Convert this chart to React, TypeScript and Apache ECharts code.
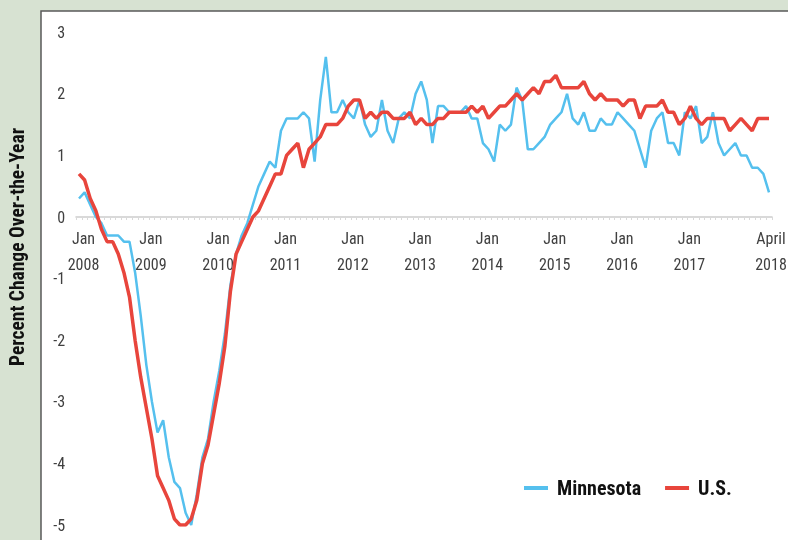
import React, { useEffect, useRef } from "react";
import * as echarts from "echarts";

// Months from Jan 2008 to Apr 2018
const startYear = 2008;
const monthCount = 124;
const categories: string[] = Array.from({ length: monthCount }, (_, i) =>
  `${startYear + Math.floor(i / 12)}-${String((i % 12) + 1).padStart(2, "0")}`
);

const xTickLabels: [string, string, string][] = [
  ["2008-01", "Jan", "2008"],
  ["2009-01", "Jan", "2009"],
  ["2010-01", "Jan", "2010"],
  ["2011-01", "Jan", "2011"],
  ["2012-01", "Jan", "2012"],
  ["2013-01", "Jan", "2013"],
  ["2014-01", "Jan", "2014"],
  ["2015-01", "Jan", "2015"],
  ["2016-01", "Jan", "2016"],
  ["2017-01", "Jan", "2017"],
  ["2018-04", "April", "2018"],
];

const yMin = -5;
const yMax = 3;
const yStep = 1;

const minnesota: number[] = [
  0.3, 0.4, 0.2, 0.0, -0.1, -0.3, -0.3, -0.3, -0.4, -0.4, -0.9, -1.6,
  -2.4, -3.0, -3.5, -3.3, -3.9, -4.3, -4.4, -4.8, -5.0, -4.5, -3.9, -3.6,
  -3.0, -2.5, -1.9, -1.1, -0.6, -0.3, -0.1, 0.2, 0.5, 0.7, 0.9, 0.8,
  1.4, 1.6, 1.6, 1.6, 1.7, 1.6, 0.9, 1.9, 2.6, 1.7, 1.7, 1.9,
  1.7, 1.6, 1.9, 1.5, 1.3, 1.4, 1.9, 1.4, 1.2, 1.6, 1.7, 1.6,
  2.0, 2.2, 1.9, 1.2, 1.8, 1.8, 1.7, 1.7, 1.7, 1.8, 1.6, 1.6,
  1.2, 1.1, 0.9, 1.5, 1.4, 1.5, 2.1, 1.9, 1.1, 1.1, 1.2, 1.3,
  1.5, 1.6, 1.7, 2.0, 1.6, 1.5, 1.7, 1.4, 1.4, 1.6, 1.5, 1.5,
  1.7, 1.6, 1.5, 1.4, 1.1, 0.8, 1.4, 1.6, 1.7, 1.2, 1.2, 1.0,
  1.7, 1.6, 1.8, 1.2, 1.3, 1.7, 1.2, 1.0, 1.1, 1.2, 1.0, 1.0,
  0.8, 0.8, 0.7, 0.4,
];

const us: number[] = [
  0.7, 0.6, 0.3, 0.1, -0.2, -0.4, -0.4, -0.6, -0.9, -1.3, -2.0, -2.6,
  -3.1, -3.6, -4.2, -4.4, -4.6, -4.9, -5.0, -5.0, -4.9, -4.6, -4.0, -3.7,
  -3.2, -2.7, -2.1, -1.2, -0.6, -0.4, -0.2, 0.0, 0.1, 0.3, 0.5, 0.7,
  0.7, 1.0, 1.1, 1.2, 0.8, 1.1, 1.2, 1.3, 1.5, 1.5, 1.5, 1.6,
  1.8, 1.9, 1.9, 1.6, 1.7, 1.6, 1.7, 1.7, 1.6, 1.6, 1.6, 1.7,
  1.5, 1.6, 1.5, 1.5, 1.6, 1.6, 1.7, 1.7, 1.7, 1.7, 1.8, 1.7,
  1.8, 1.6, 1.7, 1.8, 1.8, 1.9, 2.0, 1.9, 2.0, 2.1, 2.0, 2.2,
  2.2, 2.3, 2.1, 2.1, 2.1, 2.1, 2.2, 2.0, 1.9, 2.0, 1.9, 1.9,
  1.9, 1.8, 1.9, 1.9, 1.6, 1.8, 1.8, 1.8, 1.9, 1.7, 1.7, 1.5,
  1.6, 1.8, 1.6, 1.5, 1.6, 1.6, 1.6, 1.6, 1.4, 1.5, 1.6, 1.5,
  1.4, 1.6, 1.6, 1.6,
];

const seriesNames = ["Minnesota", "U.S."];
const yAxisTitle = "Percent Change Over-the-Year";

const FONT = '"Liberation Sans Narrow", "Arial Narrow", "Roboto Condensed", "DejaVu Sans Condensed", Roboto, sans-serif';

const GRID = { left: 76.2, right: 16.2, top: 32.2, bottom: 15 };
const CHART_H = 540;

export default function App() {
  const ref = useRef<HTMLDivElement>(null);

  useEffect(() => {
    if (!ref.current) return;
    const chart = echarts.init(ref.current, undefined, { renderer: "svg" });
    const labelMap = new Map(xTickLabels.map(([k, a, b]) => [k, [a, b]]));
    const lastKey = categories[categories.length - 1];
    const gridH = CHART_H - GRID.top - GRID.bottom;
    // move the category axis (line, ticks, labels) up to the zero line
    const zeroOffset = -((0 - yMin) / (yMax - yMin)) * gridH;
    const labelBase = {
      fontFamily: FONT,
      fontSize: 16,
      lineHeight: 26,
      color: "#404040",
    };
    chart.setOption({
      animation: false,
      backgroundColor: "transparent",
      graphic: [
        {
          type: "rect",
          z: -20,
          silent: true,
          shape: { x: 0, y: 0, width: 788, height: 540 },
          style: { fill: "#d7e2d2" },
        },
        {
          type: "rect",
          z: -19,
          silent: true,
          shape: { x: 41, y: 11, width: 800, height: 600 },
          style: { fill: "#ffffff", stroke: "#5a5a5a", lineWidth: 1.5 },
        },
        {
          type: "text",
          x: 17.5,
          y: 247,
          rotation: Math.PI / 2,
          style: {
            text: yAxisTitle,
            fill: "#111111",
            font: `bold 19.5px ${FONT}`,
            textAlign: "center",
            textVerticalAlign: "middle",
          },
        },
      ],
      grid: {
        ...GRID,
        containLabel: false,
        outerBoundsMode: "none",
      },
      legend: {
        data: seriesNames,
        left: 519,
        top: 472,
        icon: "rect",
        itemWidth: 24,
        itemHeight: 4,
        itemGap: 24,
        textStyle: {
          fontFamily: FONT,
          fontWeight: "bold",
          fontSize: 20,
          color: "#111111",
          lineHeight: 22,
          padding: [0, 0, 0, 4],
        },
      },
      xAxis: {
        type: "category",
        data: categories,
        boundaryGap: true,
        position: "bottom",
        offset: zeroOffset,
        axisLine: { onZero: false, lineStyle: { color: "#d9d9d9", width: 2 } },
        axisTick: { show: true, interval: 0, length: 3, lineStyle: { color: "#d9d9d9", width: 1 } },
        axisLabel: {
          interval: (_idx: number, value: string) => labelMap.has(value),
          formatter: (value: string) => {
            const parts = labelMap.get(value);
            if (!parts) return "";
            const s = value === lastKey ? "l" : "j";
            return `{${s}|${parts[0]}}\n{${s}|${parts[1]}}`;
          },
          ...labelBase,
          margin: 8,
          rich: {
            j: { ...labelBase, padding: [0, 0, 0, 9] },
            l: { ...labelBase, padding: [0, 0, 0, 4] },
          },
        },
        splitLine: { show: false },
      },
      yAxis: {
        type: "value",
        min: yMin,
        max: yMax,
        interval: yStep,
        axisLine: { show: false },
        axisTick: { show: false },
        splitLine: { show: false },
        axisLabel: {
          fontFamily: FONT,
          fontSize: 16,
          color: "#404040",
          margin: 11,
        },
      },
      series: [
        {
          type: "line",
          name: seriesNames[0],
          data: minnesota,
          symbol: "none",
          z: 2,
          lineStyle: { color: "#55c0ee", width: 2.5 },
          itemStyle: { color: "#55c0ee" },
        },
        {
          type: "line",
          name: seriesNames[1],
          data: us,
          symbol: "none",
          z: 3,
          lineStyle: { color: "#e8453c", width: 3.5 },
          itemStyle: { color: "#e8453c" },
        },
      ],
    });
    return () => chart.dispose();
  }, []);

  return (
    <div
      ref={ref}
      style={{ position: "fixed", left: 0, top: 0, width: 788, height: 540 }}
    />
  );
}
